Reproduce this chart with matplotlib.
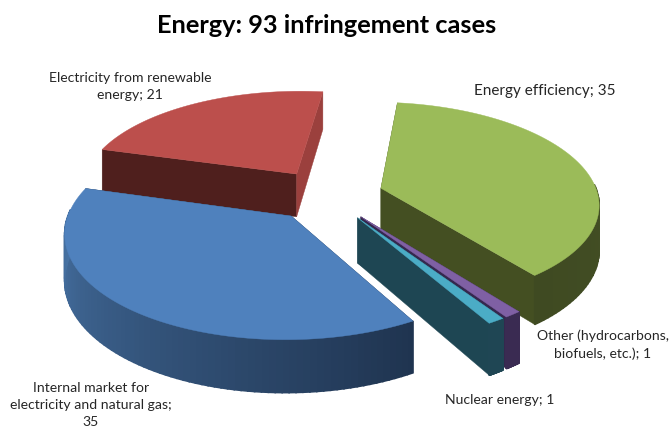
import numpy as np
import matplotlib
matplotlib.use('Agg')
import matplotlib.pyplot as plt
from matplotlib.colors import to_rgb

#%% Data, clockwise from the top of the pie

categories = ['Energy efficiency', 'Other (hydrocarbons, biofuels, etc.)', 'Nuclear energy',
              'Internal market for electricity and natural gas', 'Electricity from renewable energy']
values = [35, 1, 1, 35, 21]
title = 'Energy: 93 infringement cases'

#%% Look of the 3D pie

top_colors = ['#9BBB59', '#7F60A4', '#4BACC6', '#4F81BD', '#BC4F4C']
start_wall_colors = ['#444F22', '#35284E', '#1E4653', '#1F3450', '#4F1F1D']
end_wall_colors = ['#444F22', '#35284E', '#1E4653', '#1F3450', '#9B403D']
rim_colors_a = ['#4A5728', '#3A2B52', '#1F4654', '#1F3450', '#4F1F1D']
rim_colors_b = ['#3F4A22', '#3A2B52', '#1F4654', '#4B79AD', '#4F1F1D']
draw_order = [4, 0, 1, 2, 3]

center_x, center_y = 327, 195
radius = 217
squash = 0.46
perspective = 0.14
depth = 44
explode = 0.26
first_angle = 7


def project(X, Y, z=0):
    # pie plane coordinates to pixels, z=1 is the bottom of the pie
    s = 1 / (1 + perspective * Y)
    return center_x + radius * X * s, center_y - squash * radius * Y * s + depth * z * s


def mix(c1, c2, f):
    c1, c2 = np.array(to_rgb(c1)), np.array(to_rgb(c2))
    return tuple(c1 + (c2 - c1) * f)


#%% Plot

fig = plt.figure(figsize=(6.72, 4.28), dpi=100)
ax = fig.add_axes([0, 0, 1, 1])
ax.set_xlim(0, 672)
ax.set_ylim(428, 0)
ax.axis('off')

edges = first_angle + np.cumsum([0] + values) / sum(values) * 360

for i in draw_order:
    a0, a1 = np.radians(edges[i]), np.radians(edges[i + 1])
    mid = (a0 + a1) / 2
    ox, oy = explode * np.sin(mid), explode * np.cos(mid)
    ang = np.linspace(a0, a1, 90)
    rim_X, rim_Y = ox + np.sin(ang), oy + np.cos(ang)

    # radial walls first, tops and rims go over them
    for a, col in ((a0, start_wall_colors[i]), (a1, end_wall_colors[i])):
        ex, ey = ox + np.sin(a), oy + np.cos(a)
        px = [project(ox, oy)[0], project(ex, ey)[0], project(ex, ey, 1)[0], project(ox, oy, 1)[0]]
        py = [project(ox, oy)[1], project(ex, ey)[1], project(ex, ey, 1)[1], project(ox, oy, 1)[1]]
        ax.fill(px, py, color=col, lw=0.3)

    # outer wall, shaded along the rim
    for j in range(len(ang) - 1):
        if np.cos(ang[j]) > 0.05:
            continue
        x0, y0 = project(rim_X[j], rim_Y[j])
        x1, y1 = project(rim_X[j + 1], rim_Y[j + 1])
        x2, y2 = project(rim_X[j + 1], rim_Y[j + 1], 1)
        x3, y3 = project(rim_X[j], rim_Y[j], 1)
        ax.fill([x0, x1, x2, x3], [y0, y1, y2, y3], lw=1.2,
                color=mix(rim_colors_a[i], rim_colors_b[i], j / (len(ang) - 2)))

    tx, ty = project(np.r_[ox, rim_X], np.r_[oy, rim_Y])
    ax.fill(tx, ty, color=top_colors[i], lw=0.3)

#%% Text

text_color = '#262626'
plt.rcParams['font.family'] = ['Lato', 'DejaVu Sans']
ax.text(327, 25, title, ha='center', va='center', fontsize=18.3, fontweight='bold', color='black')
label_style = dict(fontsize=10.1, color=text_color, va='center', linespacing=1.5)
ax.text(130, 86, 'Electricity from renewable\nenergy; %d' % values[4], ha='center', **label_style)
ax.text(545, 91, 'Energy efficiency; %d' % values[0], ha='center', fontsize=11, color=text_color, va='center')
ax.text(603, 345, 'Other (hydrocarbons,\nbiofuels, etc.); %d' % values[1], ha='center', **label_style)
ax.text(500, 400, 'Nuclear energy; %d' % values[2], ha='center', **label_style)
ax.text(91, 405, 'Internal market for\nelectricity and natural gas;\n%d' % values[3], ha='center', **label_style)

fig.savefig('out.png', dpi=100)
